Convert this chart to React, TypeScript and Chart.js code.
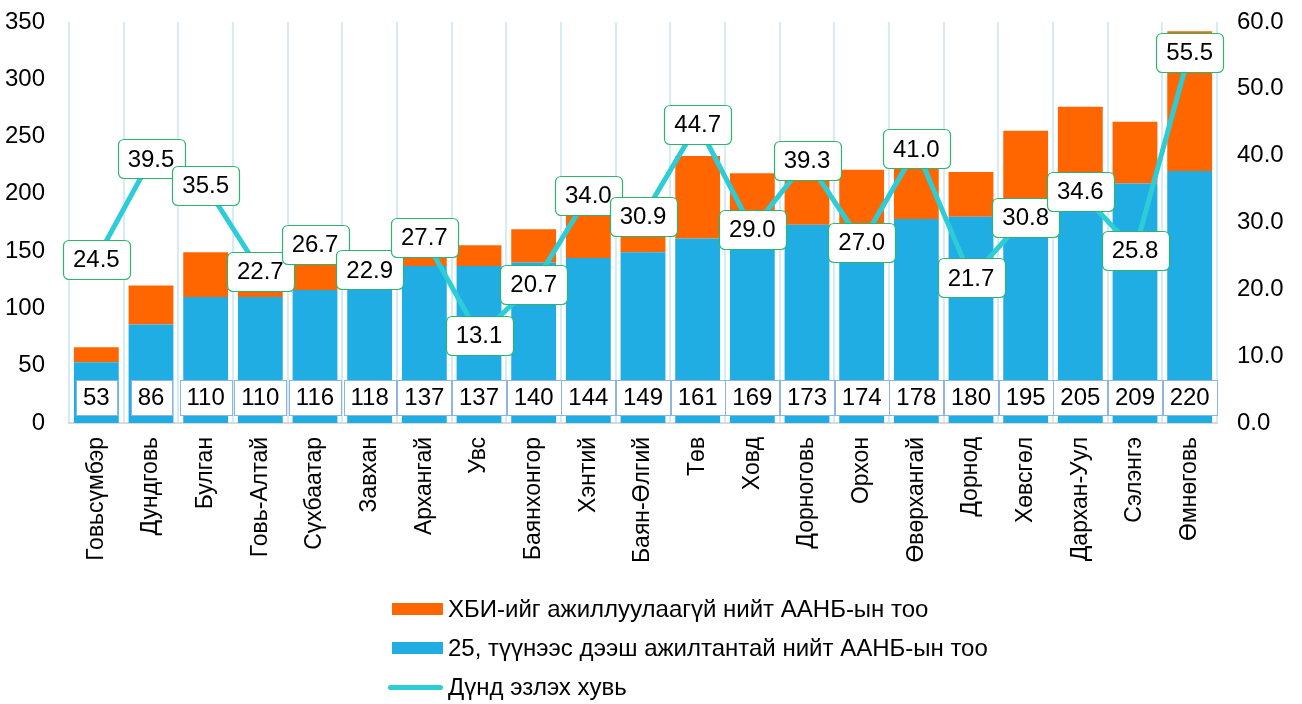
import React, { useEffect, useRef } from "react";
import { Chart, registerables } from "chart.js";

Chart.register(...registerables);

const categories = [
  "Говьсүмбэр", "Дундговь", "Булган", "Говь-Алтай", "Сүхбаатар", "Завхан", "Архангай",
  "Увс", "Баянхонгор", "Хэнтий", "Баян-Өлгий", "Төв", "Ховд", "Дорноговь", "Орхон",
  "Өвөрхангай", "Дорнод", "Хөвсгөл", "Дархан-Уул", "Сэлэнгэ", "Өмнөговь",
];
const blueValues = [53, 86, 110, 110, 116, 118, 137, 137, 140, 144, 149, 161, 169, 173, 174, 178, 180, 195, 205, 209, 220];
const orangeValues = [13, 34, 39, 25, 31, 27, 38, 18, 29, 49, 46, 72, 49, 68, 47, 73, 39, 60, 71, 54, 122];
const pctValues = [24.5, 39.5, 35.5, 22.7, 26.7, 22.9, 27.7, 13.1, 20.7, 34.0, 30.9, 44.7, 29.0, 39.3, 27.0, 41.0, 21.7, 30.8, 34.6, 25.8, 55.5];

const orangeLabel = "ХБИ-ийг ажиллуулаагүй нийт ААНБ-ын тоо";
const blueLabel = "25, түүнээс дээш ажилтантай нийт ААНБ-ын тоо";
const lineLabel = "Дүнд эзлэх хувь";

const FONT = '"Liberation Sans", Arial, sans-serif';
const ORANGE = "#FF6600";
const BLUE = "#1FADE3";
const TEAL = "#2CCDD6";

function rrect(ctx: CanvasRenderingContext2D, x: number, y: number, w: number, h: number, r: number) {
  ctx.beginPath();
  ctx.moveTo(x + r, y);
  ctx.lineTo(x + w - r, y);
  ctx.quadraticCurveTo(x + w, y, x + w, y + r);
  ctx.lineTo(x + w, y + h - r);
  ctx.quadraticCurveTo(x + w, y + h, x + w - r, y + h);
  ctx.lineTo(x + r, y + h);
  ctx.quadraticCurveTo(x, y + h, x, y + h - r);
  ctx.lineTo(x, y + r);
  ctx.quadraticCurveTo(x, y, x + r, y);
  ctx.closePath();
}

const labelPlugin = {
  id: "boxLabels",
  afterDatasetsDraw(chart: any) {
    const ctx: CanvasRenderingContext2D = chart.ctx;
    const area = chart.chartArea;
    ctx.save();
    ctx.font = `24px ${FONT}`;
    ctx.textAlign = "center";
    ctx.textBaseline = "middle";
    // blue value labels
    const blueMeta = chart.getDatasetMeta(1);
    blueMeta.data.forEach((el: any, i: number) => {
      const txt = String(blueValues[i]);
      const w = Math.round(ctx.measureText(txt).width + 14);
      const h = 35;
      const cx = el.x;
      const cy = area.bottom - 25.5;
      const x = Math.round(cx - w / 2) + 0.5;
      const y = Math.round(cy - h / 2) + 0.5;
      ctx.fillStyle = "#ffffff";
      ctx.fillRect(x, y, w, h);
      ctx.strokeStyle = "#8DB4E2";
      ctx.lineWidth = 1;
      ctx.strokeRect(x, y, w, h);
      ctx.fillStyle = "#000000";
      ctx.fillText(txt, cx, cy + 1);
    });
    // line labels
    const lineMeta = chart.getDatasetMeta(0);
    lineMeta.data.forEach((el: any, i: number) => {
      const txt = pctValues[i].toFixed(1);
      const w = Math.round(ctx.measureText(txt).width + 20);
      const h = 39;
      const x = Math.round(el.x - w / 2) + 0.5;
      const y = Math.round(el.y - h / 2) + 0.5;
      rrect(ctx, x, y, w, h, 6);
      ctx.fillStyle = "#ffffff";
      ctx.fill();
      ctx.strokeStyle = "#2DB56E";
      ctx.lineWidth = 1.2;
      ctx.stroke();
      ctx.fillStyle = "#000000";
      ctx.fillText(txt, el.x, el.y + 1);
    });
    ctx.restore();
  },
};

export default function App() {
  const ref = useRef<HTMLCanvasElement | null>(null);

  useEffect(() => {
    if (!ref.current) return;
    const chart = new Chart(ref.current, {
      type: "bar",
      data: {
        labels: categories,
        datasets: [
          {
            type: "line",
            label: lineLabel,
            data: pctValues,
            yAxisID: "y1",
            borderColor: TEAL,
            backgroundColor: TEAL,
            borderWidth: 5,
            pointRadius: 0,
            tension: 0,
            order: -1,
          } as any,
          {
            type: "bar",
            label: blueLabel,
            data: blueValues,
            backgroundColor: BLUE,
            yAxisID: "y",
            stack: "s",
            barPercentage: 0.82,
            categoryPercentage: 1,
          },
          {
            type: "bar",
            label: orangeLabel,
            data: orangeValues,
            backgroundColor: ORANGE,
            yAxisID: "y",
            stack: "s",
            barPercentage: 0.82,
            categoryPercentage: 1,
          },
        ],
      },
      options: {
        responsive: false,
        animation: false,
        devicePixelRatio: 1,
        layout: { padding: { left: 0, right: 0, top: 0, bottom: 127 } },
        plugins: {
          legend: { display: false },
          tooltip: { enabled: false },
        },
        scales: {
          x: {
            stacked: true,
            offset: true,
            grid: { display: true, color: "#D6EBF8", lineWidth: 2, drawTicks: false, offset: true },
            border: { display: true, color: "#D9D9D9", width: 2 },
            ticks: {
              color: "#000000",
              font: { family: FONT, size: 23 },
              minRotation: 90,
              maxRotation: 90,
              padding: 14,
              autoSkip: false,
            },
          },
          y: {
            stacked: true,
            position: "left",
            min: 0,
            max: 350,
            grid: { display: false, drawTicks: false },
            border: { display: false },
            ticks: {
              stepSize: 50,
              color: "#000000",
              font: { family: FONT, size: 24 },
              padding: 24,
            },
            afterFit: (scale: any) => {
              scale.width = 69;
              scale.paddingTop = 22;
              scale.paddingBottom = 12;
            },
          },
          y1: {
            position: "right",
            min: 0,
            max: 60,
            grid: { display: false, drawTicks: false },
            border: { display: false },
            ticks: {
              stepSize: 10,
              color: "#000000",
              font: { family: FONT, size: 24 },
              padding: 20,
              callback: (v: any) => Number(v).toFixed(1),
            },
            afterFit: (scale: any) => {
              scale.width = 85;
              scale.paddingTop = 22;
              scale.paddingBottom = 12;
            },
          },
        },
      },
      plugins: [labelPlugin],
    });
    return () => chart.destroy();
  }, []);

  const rowStyle: React.CSSProperties = {
    position: "absolute",
    left: 388,
    height: 24,
    display: "flex",
    alignItems: "center",
    fontFamily: FONT,
    fontSize: 24,
    color: "#000",
    whiteSpace: "nowrap",
  };

  return (
    <div style={{ position: "absolute", left: 0, top: 0, width: 1302, height: 704, background: "#fff", overflow: "hidden" }}>
      <canvas ref={ref} width={1302} height={704} style={{ display: "block" }} />
      <div style={{ ...rowStyle, top: 597 }}>
        <span style={{ display: "inline-block", width: 51, height: 12, background: ORANGE, marginLeft: 4, marginRight: 5 }} />
        <span>{orangeLabel}</span>
      </div>
      <div style={{ ...rowStyle, top: 636 }}>
        <span style={{ display: "inline-block", width: 51, height: 12, background: BLUE, marginLeft: 4, marginRight: 5 }} />
        <span>{blueLabel}</span>
      </div>
      <div style={{ ...rowStyle, top: 675 }}>
        <span style={{ display: "inline-block", width: 55, height: 5, borderRadius: 3, background: TEAL, marginRight: 5 }} />
        <span>{lineLabel}</span>
      </div>
    </div>
  );
}
